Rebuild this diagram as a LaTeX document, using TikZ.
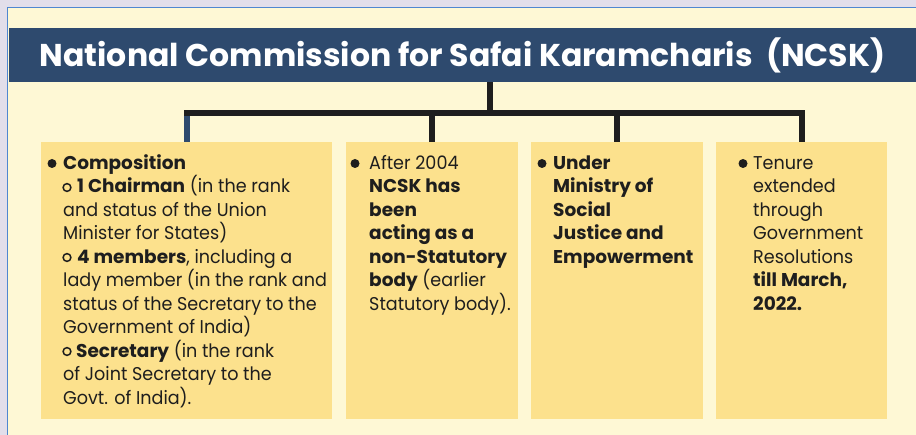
\documentclass[tikz,border=0pt]{standalone}
\usepackage{fontspec}
\setmainfont{Poppins}[UprightFeatures={FakeStretch=0.95}]
\definecolor{lavender}{HTML}{E2DEEA}
\definecolor{edgeblue}{HTML}{4F86D0}
\definecolor{paper}{HTML}{FEF8D5}
\definecolor{boxfill}{HTML}{FCE18D}
\definecolor{navy}{HTML}{2E4A6E}
\definecolor{ink}{HTML}{1E1E1E}
\begin{document}
\begin{tikzpicture}[x=1bp,y=-1bp,
  box/.style={fill=boxfill, draw=none, inner sep=0pt, minimum height=277bp},
  txt/.style={anchor=base west, inner sep=0pt, text=ink},
  conn/.style={draw=ink, line width=6bp},
  dot/.style={fill=ink},
  ring/.style={draw=ink, line width=1.5bp}]
\useasboundingbox (0,0) rectangle (916,435);
% background
\fill[lavender] (0,0) rectangle (916,435);
\fill[paper] (8,8) rectangle (916,435);
\draw[edgeblue, line width=1.5bp] (7.5,435) -- (7.5,7.5) -- (916,7.5);
% title band
\node[fill=navy, inner sep=0pt, minimum width=907bp, minimum height=54bp, text=white,
      font=\fontsize{31.5bp}{33bp}\selectfont\bfseries] (title) at (462.5,55)
      {National Commission for Safai Karamcharis\ \ (NCSK)};
% boxes
\node[box, minimum width=291bp] (b1) at (186.5,280.5) {};
\node[box, minimum width=172bp] (b2) at (432,280.5) {};
\node[box, minimum width=172bp] (b3) at (617,280.5) {};
\node[box, minimum width=171bp] (b4) at (801.5,280.5) {};
% connectors
\coordinate (hub) at (490,113);
\draw[conn, draw=navy] (b1.north) -- ([yshift=-3bp]b1.north |- hub);
\draw[conn] (title.south -| hub) -- (hub);
\draw[conn, line cap=rect] (b1.north |- hub) -- (b4.north |- hub);
\draw[conn] (hub -| b2.north) -- (b2.north);
\draw[conn] (hub -| b3.north) -- (b3.north);
\draw[conn] (hub -| b4.north) -- (b4.north);
% bullets
\fill[dot] (52,163.5) circle (4.5bp);
\fill[dot] (355,163.5) circle (4.5bp);
\fill[dot] (542,163.5) circle (4.5bp);
\fill[dot] (743,163.5) circle (4.5bp);
\draw[ring] (67,187.5) circle (3.9bp);
\draw[ring] (67,257.5) circle (3.9bp);
\draw[ring] (67,351.5) circle (3.9bp);
% texts
\node[txt] (t1) at (63,169.5) {\parbox[t]{300bp}{\fontsize{18.5bp}{23.5bp}\selectfont\raggedright
\textbf{Composition}\\
\hspace*{14bp}\textbf{1 Chairman} (in the rank\\
and status of the Union\\
Minister for States)\\
\hspace*{14bp}\textbf{4 members}, including a\\
lady member (in the rank and\\
status of the Secretary to the\\
Government of India)\\
\hspace*{13bp}\textbf{Secretary} (in the rank\\
of Joint Secretary to the\\
Govt. of India).}};
\node[txt] (t2) at (369,169.5) {\parbox[t]{200bp}{\fontsize{18.5bp}{23.5bp}\selectfont\raggedright
After 2004\\
\textbf{NCSK has}\\
\textbf{been}\\
\textbf{acting as a}\\
\textbf{non-Statutory}\\
\textbf{body} (earlier\\
Statutory body).}};
\node[txt] (t3) at (553,169.5) {\parbox[t]{200bp}{\fontsize{18.5bp}{23.5bp}\selectfont\raggedright\bfseries
Under\\
Ministry of\\
Social\\
Justice and\\
Empowerment}};
\node[txt] (t4) at (753,169.5) {\parbox[t]{200bp}{\fontsize{18.5bp}{23.5bp}\selectfont\raggedright
Tenure\\
extended\\
through\\
Government\\
Resolutions\\
\textbf{till March,}\\
\textbf{2022.}}};
\end{tikzpicture}
\end{document}
